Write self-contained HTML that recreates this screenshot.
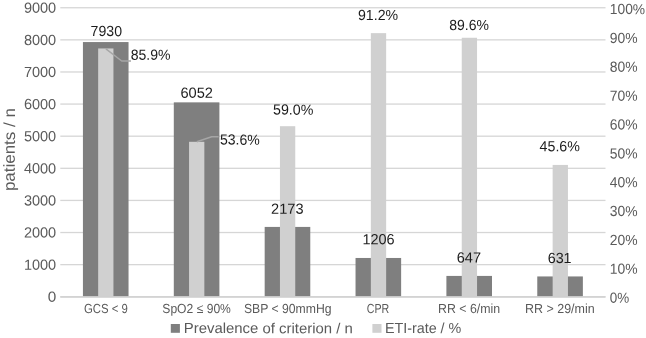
<!DOCTYPE html><html><head><meta charset="utf-8"><style>html,body{margin:0;padding:0;background:#fff}svg{display:block;filter:grayscale(1)}text{font-family:"Liberation Sans",sans-serif;text-rendering:geometricPrecision}</style></head><body>
<svg width="646" height="338" viewBox="0 0 646 338">
<rect width="646" height="338" fill="#fff"/>
<rect x="60.30" y="296.10" width="545.20" height="1.3" fill="#d6d6d6"/>
<rect x="60.30" y="263.99" width="545.20" height="1.3" fill="#d6d6d6"/>
<rect x="60.30" y="231.88" width="545.20" height="1.3" fill="#d6d6d6"/>
<rect x="60.30" y="199.77" width="545.20" height="1.3" fill="#d6d6d6"/>
<rect x="60.30" y="167.66" width="545.20" height="1.3" fill="#d6d6d6"/>
<rect x="60.30" y="135.54" width="545.20" height="1.3" fill="#d6d6d6"/>
<rect x="60.30" y="103.43" width="545.20" height="1.3" fill="#d6d6d6"/>
<rect x="60.30" y="71.32" width="545.20" height="1.3" fill="#d6d6d6"/>
<rect x="60.30" y="39.21" width="545.20" height="1.3" fill="#d6d6d6"/>
<rect x="60.30" y="7.10" width="545.20" height="1.3" fill="#d6d6d6"/>
<rect x="82.93" y="42.06" width="45.6" height="254.64" fill="#7f7f7f"/>
<rect x="173.80" y="102.36" width="45.6" height="194.34" fill="#7f7f7f"/>
<rect x="264.67" y="226.92" width="45.6" height="69.78" fill="#7f7f7f"/>
<rect x="355.53" y="257.97" width="45.6" height="38.73" fill="#7f7f7f"/>
<rect x="446.40" y="275.92" width="45.6" height="20.78" fill="#7f7f7f"/>
<rect x="537.27" y="276.44" width="45.6" height="20.26" fill="#7f7f7f"/>
<rect x="98.15" y="48.45" width="15.3" height="248.25" fill="#d0d0d0"/>
<rect x="189.05" y="141.80" width="15.3" height="154.90" fill="#d0d0d0"/>
<rect x="279.95" y="126.19" width="15.3" height="170.51" fill="#d0d0d0"/>
<rect x="370.85" y="33.13" width="15.3" height="263.57" fill="#d0d0d0"/>
<rect x="461.75" y="37.76" width="15.3" height="258.94" fill="#d0d0d0"/>
<rect x="552.65" y="164.92" width="15.3" height="131.78" fill="#d0d0d0"/>
<rect x="60.30" y="296.15" width="545.20" height="1.6" fill="#d2d2d2"/>
<polyline points="105.9,48.9 121.7,61 131,61" fill="none" stroke="#a6a6a6" stroke-width="1.5" stroke-linejoin="round"/>
<polyline points="196.8,141.8 211.7,136.8 218.6,136.8" fill="none" stroke="#a6a6a6" stroke-width="1.5" stroke-linejoin="round"/>
<text x="47.70" y="301.80" font-size="14.6" fill="#5a5a5a" textLength="8.50" lengthAdjust="spacingAndGlyphs" transform="rotate(0.1 47.70 301.80)">0</text>
<text x="23.90" y="269.69" font-size="14.6" fill="#5a5a5a" textLength="32.30" lengthAdjust="spacingAndGlyphs" transform="rotate(0.1 23.90 269.69)">1000</text>
<text x="23.90" y="237.58" font-size="14.6" fill="#5a5a5a" textLength="32.30" lengthAdjust="spacingAndGlyphs" transform="rotate(0.1 23.90 237.58)">2000</text>
<text x="23.90" y="205.47" font-size="14.6" fill="#5a5a5a" textLength="32.30" lengthAdjust="spacingAndGlyphs" transform="rotate(0.1 23.90 205.47)">3000</text>
<text x="23.90" y="173.36" font-size="14.6" fill="#5a5a5a" textLength="32.30" lengthAdjust="spacingAndGlyphs" transform="rotate(0.1 23.90 173.36)">4000</text>
<text x="23.90" y="141.24" font-size="14.6" fill="#5a5a5a" textLength="32.30" lengthAdjust="spacingAndGlyphs" transform="rotate(0.1 23.90 141.24)">5000</text>
<text x="23.90" y="109.13" font-size="14.6" fill="#5a5a5a" textLength="32.30" lengthAdjust="spacingAndGlyphs" transform="rotate(0.1 23.90 109.13)">6000</text>
<text x="23.90" y="77.02" font-size="14.6" fill="#5a5a5a" textLength="32.30" lengthAdjust="spacingAndGlyphs" transform="rotate(0.1 23.90 77.02)">7000</text>
<text x="23.90" y="44.91" font-size="14.6" fill="#5a5a5a" textLength="32.30" lengthAdjust="spacingAndGlyphs" transform="rotate(0.1 23.90 44.91)">8000</text>
<text x="23.90" y="12.80" font-size="14.6" fill="#5a5a5a" textLength="32.30" lengthAdjust="spacingAndGlyphs" transform="rotate(0.1 23.90 12.80)">9000</text>
<text x="609.80" y="302.70" font-size="14.6" fill="#5a5a5a" textLength="19.40" lengthAdjust="spacingAndGlyphs" transform="rotate(0.1 609.80 302.70)">0%</text>
<text x="609.80" y="273.84" font-size="14.6" fill="#5a5a5a" textLength="27.80" lengthAdjust="spacingAndGlyphs" transform="rotate(0.1 609.80 273.84)">10%</text>
<text x="609.80" y="244.98" font-size="14.6" fill="#5a5a5a" textLength="27.80" lengthAdjust="spacingAndGlyphs" transform="rotate(0.1 609.80 244.98)">20%</text>
<text x="609.80" y="216.12" font-size="14.6" fill="#5a5a5a" textLength="27.80" lengthAdjust="spacingAndGlyphs" transform="rotate(0.1 609.80 216.12)">30%</text>
<text x="609.80" y="187.26" font-size="14.6" fill="#5a5a5a" textLength="27.80" lengthAdjust="spacingAndGlyphs" transform="rotate(0.1 609.80 187.26)">40%</text>
<text x="609.80" y="158.40" font-size="14.6" fill="#5a5a5a" textLength="27.80" lengthAdjust="spacingAndGlyphs" transform="rotate(0.1 609.80 158.40)">50%</text>
<text x="609.80" y="129.54" font-size="14.6" fill="#5a5a5a" textLength="27.80" lengthAdjust="spacingAndGlyphs" transform="rotate(0.1 609.80 129.54)">60%</text>
<text x="609.80" y="100.68" font-size="14.6" fill="#5a5a5a" textLength="27.80" lengthAdjust="spacingAndGlyphs" transform="rotate(0.1 609.80 100.68)">70%</text>
<text x="609.80" y="71.82" font-size="14.6" fill="#5a5a5a" textLength="27.80" lengthAdjust="spacingAndGlyphs" transform="rotate(0.1 609.80 71.82)">80%</text>
<text x="609.80" y="42.96" font-size="14.6" fill="#5a5a5a" textLength="27.80" lengthAdjust="spacingAndGlyphs" transform="rotate(0.1 609.80 42.96)">90%</text>
<text x="609.80" y="14.10" font-size="14.6" fill="#5a5a5a" textLength="35.30" lengthAdjust="spacingAndGlyphs" transform="rotate(0.1 609.80 14.10)">100%</text>
<text x="90.60" y="36.10" font-size="14.6" fill="#1c1c1c" textLength="31.40" lengthAdjust="spacingAndGlyphs" transform="rotate(0.1 90.60 36.10)">7930</text>
<text x="130.70" y="59.80" font-size="14.6" fill="#1c1c1c" textLength="39.80" lengthAdjust="spacingAndGlyphs" transform="rotate(0.1 130.70 59.80)">85.9%</text>
<text x="180.50" y="97.70" font-size="14.6" fill="#1c1c1c" textLength="32.50" lengthAdjust="spacingAndGlyphs" transform="rotate(0.1 180.50 97.70)">6052</text>
<text x="219.90" y="144.60" font-size="14.6" fill="#1c1c1c" textLength="39.80" lengthAdjust="spacingAndGlyphs" transform="rotate(0.1 219.90 144.60)">53.6%</text>
<text x="273.00" y="114.60" font-size="14.6" fill="#1c1c1c" textLength="40.40" lengthAdjust="spacingAndGlyphs" transform="rotate(0.1 273.00 114.60)">59.0%</text>
<text x="358.00" y="19.90" font-size="14.6" fill="#1c1c1c" textLength="40.10" lengthAdjust="spacingAndGlyphs" transform="rotate(0.1 358.00 19.90)">91.2%</text>
<text x="449.30" y="29.90" font-size="14.6" fill="#1c1c1c" textLength="39.60" lengthAdjust="spacingAndGlyphs" transform="rotate(0.1 449.30 29.90)">89.6%</text>
<text x="539.60" y="151.20" font-size="14.6" fill="#1c1c1c" textLength="40.30" lengthAdjust="spacingAndGlyphs" transform="rotate(0.1 539.60 151.20)">45.6%</text>
<text x="271.10" y="213.80" font-size="14.6" fill="#1c1c1c" textLength="32.40" lengthAdjust="spacingAndGlyphs" transform="rotate(0.1 271.10 213.80)">2173</text>
<text x="362.40" y="244.30" font-size="14.6" fill="#1c1c1c" textLength="32.20" lengthAdjust="spacingAndGlyphs" transform="rotate(0.1 362.40 244.30)">1206</text>
<text x="456.70" y="262.50" font-size="14.6" fill="#1c1c1c" textLength="24.30" lengthAdjust="spacingAndGlyphs" transform="rotate(0.1 456.70 262.50)">647</text>
<text x="547.70" y="263.00" font-size="14.6" fill="#1c1c1c" textLength="23.90" lengthAdjust="spacingAndGlyphs" transform="rotate(0.1 547.70 263.00)">631</text>
<text x="83.90" y="312.90" font-size="13.1" fill="#5a5a5a" textLength="43.90" lengthAdjust="spacingAndGlyphs" transform="rotate(0.1 83.90 312.90)">GCS &lt; 9</text>
<text x="162.30" y="312.90" font-size="13.1" fill="#5a5a5a" textLength="68.60" lengthAdjust="spacingAndGlyphs" transform="rotate(0.1 162.30 312.90)">SpO2 ≤ 90%</text>
<text x="243.90" y="312.90" font-size="13.1" fill="#5a5a5a" textLength="87.60" lengthAdjust="spacingAndGlyphs" transform="rotate(0.1 243.90 312.90)">SBP &lt; 90mmHg</text>
<text x="366.80" y="312.90" font-size="13.1" fill="#5a5a5a" textLength="22.50" lengthAdjust="spacingAndGlyphs" transform="rotate(0.1 366.80 312.90)">CPR</text>
<text x="438.10" y="312.90" font-size="13.1" fill="#5a5a5a" textLength="62.10" lengthAdjust="spacingAndGlyphs" transform="rotate(0.1 438.10 312.90)">RR &lt; 6/min</text>
<text x="525.00" y="312.90" font-size="13.1" fill="#5a5a5a" textLength="69.70" lengthAdjust="spacingAndGlyphs" transform="rotate(0.1 525.00 312.90)">RR &gt; 29/min</text>
<rect x="170.8" y="324.0" width="9.1" height="8.8" fill="#7f7f7f"/>
<text x="183.80" y="333.00" font-size="14.6" fill="#5a5a5a" textLength="169.00" lengthAdjust="spacingAndGlyphs" transform="rotate(0.1 183.80 333.00)">Prevalence of criterion / n</text>
<rect x="372.4" y="324.0" width="9.1" height="8.8" fill="#d0d0d0"/>
<text x="384.90" y="333.00" font-size="14.6" fill="#5a5a5a" textLength="76.40" lengthAdjust="spacingAndGlyphs" transform="rotate(0.1 384.90 333.00)">ETI-rate / %</text>
<text transform="translate(14.8,191.1) rotate(-89.9)" font-size="16" fill="#5a5a5a" textLength="83.0" lengthAdjust="spacingAndGlyphs">patients / n</text>
</svg></body></html>
